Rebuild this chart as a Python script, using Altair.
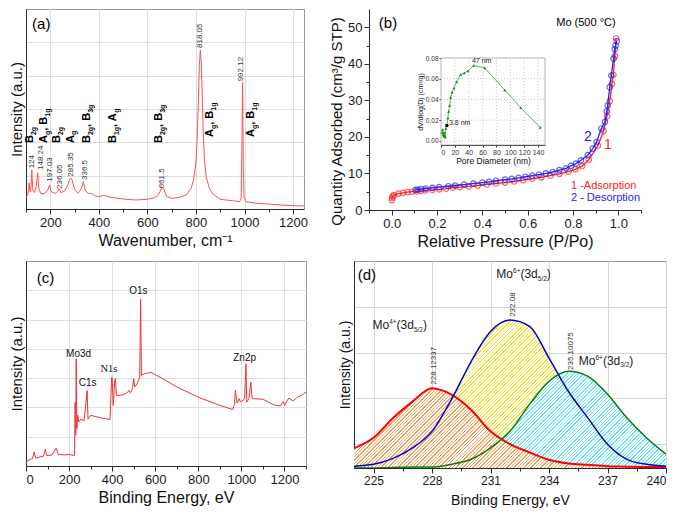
import altair as alt
import pandas as pd

FONT = "Liberation Sans"

# ---------------- (a) Raman spectrum ----------------
raman_x = [100, 108, 113, 117, 121, 124, 128, 135, 142, 148,
           153, 160, 175, 190, 197, 204, 220, 230, 236, 244,
           260, 272, 280, 285, 290, 300, 315, 328, 336, 344,
           355, 370, 385, 400, 420, 450, 500, 550, 600, 630,
           645, 655, 662, 668, 680, 700, 730, 760, 780, 790,
           800, 806, 810, 814, 818, 822, 826, 830, 835, 842,
           855, 870, 900, 950, 980, 986, 989, 992, 995, 998,
           1005, 1050, 1100, 1150, 1200, 1245]
raman_y = [0.37, 0.42, 0.79, 0.52, 0.70, 1.17, 0.57, 0.49, 0.67, 1.09,
           0.62, 0.47, 0.45, 0.57, 0.72, 0.52, 0.47, 0.52, 0.61, 0.49,
           0.55, 0.72, 0.89, 0.93, 0.87, 0.59, 0.47, 0.62, 0.82, 0.57,
           0.47, 0.47, 0.39, 0.37, 0.41, 0.35, 0.30, 0.27, 0.29, 0.34,
           0.42, 0.57, 0.65, 0.59, 0.37, 0.32, 0.35, 0.42, 0.62, 0.87,
           1.38, 2.28, 3.28, 4.28, 4.77, 4.39, 3.39, 2.28, 1.48, 0.97,
           0.62, 0.45, 0.29, 0.25, 0.22, 0.32, 1.78, 3.79, 1.28, 0.37,
           0.22, 0.17, 0.15, 0.12, 0.10, 0.09]
raman_peak_text = ["124", "148.24", "197.03", "236.05", "285.35", "336.5", "661.5", "818.05", "992.12"]
raman_peak_x = [123, 160, 200, 242, 286, 341, 661, 817, 987]
raman_peak_y = [1.22, 1.17, 0.82, 0.60, 0.97, 0.87, 0.62, 4.83, 3.83]
raman_mode_text = ["B_2g", "A_g, B_1g", "B_2g", "A_g", "B_2g, B_3g", "B_1g, A_g",
                   "B_2g, B_3g", "A_g, B_1g", "A_g, B_1g"]
raman_mode_x = [130, 187, 242, 297, 364, 472, 661, 872, 1040]
raman_mode_y = [1.98, 1.98, 1.98, 1.98, 1.98, 1.98, 1.98, 2.16, 2.16]
raman_xticks = [100, 200, 300, 400, 500, 600, 700, 800, 900, 1000, 1100, 1200]
raman_yticks = [1, 2, 3, 4, 5]

# ---------------- (b) N2 isotherm ----------------
ads_p = [0.0005, 0.002, 0.005, 0.01, 0.03, 0.05, 0.07, 0.09, 0.11, 0.13,
         0.15, 0.18, 0.21, 0.24, 0.27, 0.30, 0.34, 0.38, 0.42, 0.46,
         0.50, 0.54, 0.58, 0.62, 0.66, 0.70, 0.74, 0.78, 0.81, 0.84,
         0.87, 0.91, 0.935, 0.95, 0.962, 0.972, 0.978, 0.985, 0.99]
ads_q = [2.7, 3.3, 3.8, 4.1, 4.5, 4.7, 4.9, 5.0, 5.1, 5.2,
         5.35, 5.5, 5.65, 5.85, 6.1, 6.25, 6.45, 6.7, 7.0, 7.25,
         7.5, 7.8, 8.15, 8.55, 8.95, 9.4, 9.9, 10.5, 11.1, 12.0,
         13.8, 17.6, 21.6, 25.6, 29.8, 34.5, 37.0, 42.2, 47.0]
des_p = [0.993, 0.988, 0.984, 0.979, 0.969, 0.962, 0.953, 0.949, 0.941, 0.925,
         0.904, 0.887, 0.865, 0.835, 0.813, 0.791, 0.769, 0.74, 0.71, 0.68,
         0.65, 0.62, 0.59, 0.56, 0.53, 0.50, 0.46, 0.43, 0.40, 0.36,
         0.32, 0.28, 0.25, 0.21, 0.18, 0.15, 0.13, 0.115, 0.105]
des_q = [46.2, 45.0, 44.0, 41.4, 36.8, 33.6, 28.6, 27.0, 24.1, 22.3,
         18.6, 16.8, 15.0, 13.6, 12.7, 12.1, 11.4, 10.9, 10.4, 10.0,
         9.7, 9.4, 9.1, 8.8, 8.5, 8.3, 8.0, 7.7, 7.5, 7.2,
         6.95, 6.7, 6.5, 6.25, 6.05, 5.85, 5.7, 5.6, 5.5]
b_xticks = [-0.1, 0.0, 0.1, 0.2, 0.3, 0.4, 0.5, 0.6, 0.7, 0.8, 0.9, 1.0, 1.1]
b_yticks = [0, 5, 10, 15, 20, 25, 30, 35, 40, 45, 50]

# inset: pore size distribution
pore_d = [1.5, 2.4, 3.2, 3.8, 4.6, 5.3, 6.2, 7.0, 8.5, 10,
          11, 12.5, 14, 16, 18.8, 22.6, 28.4, 33.5, 39, 47,
          63, 92, 115, 143]
pore_v = [0.008, 0.011, 0.006, 0.0045, 0.008, 0.005, 0.0035, 0.012, 0.0148, 0.022,
          0.0285, 0.034, 0.042, 0.047, 0.051, 0.057, 0.064, 0.0655, 0.0675, 0.0727,
          0.0705, 0.049, 0.032, 0.013]
inset_xticks = [0, 20, 40, 60, 80, 100, 120, 140]
inset_yticks = [0.0, 0.02, 0.04, 0.06, 0.08]

# ---------------- (c) XPS survey ----------------
xps_x = [0, 5, 10, 20, 30, 38, 45, 60, 80, 90,
         95, 120, 140, 150, 180, 200, 225, 228, 231, 233,
         236, 240, 245, 255, 270, 284, 288, 300, 350, 390,
         398, 400, 405, 412, 415, 420, 450, 470, 478, 485,
         495, 500, 505, 515, 528, 532, 536, 550, 580, 600,
         650, 700, 800, 900, 960, 968, 972, 980, 990, 995,
         1000, 1015, 1021, 1025, 1035, 1044, 1050, 1100, 1150, 1180,
         1195, 1200, 1220, 1240, 1260, 1280, 1300]
xps_y = [0.08, 0.15, 0.20, 0.22, 0.25, 0.48, 0.27, 0.30, 0.33, 0.57,
         0.36, 0.37, 0.61, 0.39, 0.38, 0.39, 0.36, 2.18, 1.05, 3.66,
         1.27, 1.73, 1.50, 1.60, 1.55, 2.58, 1.60, 1.73, 1.64, 1.59,
         3.03, 3.00, 2.07, 2.90, 2.98, 2.40, 2.43, 2.50, 2.58, 2.50,
         2.65, 2.98, 2.70, 2.80, 3.03, 5.70, 3.09, 3.15, 3.20, 3.12,
         2.92, 2.70, 2.35, 2.07, 1.93, 2.10, 2.58, 2.15, 2.30, 2.20,
         2.20, 2.30, 3.49, 2.18, 2.30, 2.86, 2.30, 2.28, 2.09, 2.05,
         2.20, 2.07, 2.32, 2.22, 2.35, 2.42, 2.52]
xps_label_text = ["Mo3d", "C1s", "O1s", "Zn2p"]
xps_label_x = [244, 286, 522, 1015]
xps_label_y = [3.81, 2.82, 5.98, 3.70]
xps_xticks = [0, 100, 200, 300, 400, 500, 600, 700, 800, 900, 1000, 1100, 1200, 1300]
xps_yticks = [1, 2, 3, 4, 5, 6]

# ---------------- (d) Mo 3d deconvolution ----------------
be_x = [224, 225, 226, 227, 228, 229, 230, 231, 232, 233, 234, 235, 236, 237, 238, 239, 240]
mo4_52 = [0.91, 1.14, 1.57, 1.93, 2.22, 2.08, 1.75, 1.28, 1.00, 0.82, 0.66, 0.58, 0.55, 0.52, 0.51, 0.50, 0.50]
mo6_52 = [0.52, 0.56, 0.69, 0.92, 1.28, 1.98, 2.80, 3.46, 3.71, 3.57, 2.88, 2.15, 1.57, 1.00, 0.67, 0.56, 0.52]
mo6_32 = [0.48, 0.48, 0.49, 0.50, 0.50, 0.56, 0.67, 0.92, 1.28, 1.87, 2.37, 2.59, 2.48, 2.09, 1.57, 1.14, 0.78]
d_peak_text = ["228.12337", "232.08", "235.10075"]
d_peak_x = [228.11, 232.14, 235.14]
d_peak_y = [2.30, 3.78, 2.62]
d_label_text = ["Mo^4+(3d_5/2)", "Mo^6+(3d_5/2)", "Mo^6+(3d_3/2)"]
d_label_x = [224.95, 231.3, 235.53]
d_label_y = [3.51, 4.62, 2.73]
d_xticks = [225, 226.5, 228, 229.5, 231, 232.5, 234, 235.5, 237, 238.5, 240]
d_yticks = [1, 2, 3, 4]

W_A, H_A = 278, 200
W_B, H_B = 272, 201
W_C, H_C = 280, 205
W_D, H_D = 312, 207
D_YMIN, D_YMAX = 0.48, 5.0

BOLD_W = {"A": 0.722, "B": 0.722, "g": 0.611, ",": 0.278, " ": 0.278}
REG_W = {"M": 0.833, "o": 0.556, "(": 0.333, ")": 0.333, "+": 0.584, "/": 0.278}


def parse_rich(s):
    segs, cur, i = [], "", 0
    while i < len(s):
        ch = s[i]
        if ch in "_^":
            if cur:
                segs.append((cur, "n"))
                cur = ""
            j = i + 1
            while j < len(s) and s[j] not in ", ()":
                j += 1
            segs.append((s[i + 1:j], "s" if ch == "_" else "p"))
            i = j
        else:
            cur += ch
            i += 1
    if cur:
        segs.append((cur, "n"))
    return segs


def rich_rows(texts, xs, ys, widths, fs_main, fs_small, along, ppu):
    rows = []
    for text, x0, y0 in zip(texts, xs, ys):
        off = 0.0
        for seg, kind in parse_rich(text):
            fs = fs_main if kind == "n" else fs_small
            if along == "y":
                rows.append({"x": x0, "y": y0 + off / ppu, "t": seg, "k": kind})
            else:
                rows.append({"x": x0 + off / ppu, "y": y0, "t": seg, "k": kind})
            off += sum(widths.get(c, 0.556) for c in seg) * fs
    return pd.DataFrame(rows)


def cond(test, a, b):
    return {"condition": {"test": test, "value": a}, "value": b}


def axis(**kw):
    base = dict(labelFont=FONT, titleFont=FONT, labelColor="#1a1a1a", titleColor="#111111",
                domainColor="#2a2a2a", tickColor="#2a2a2a", titleFontWeight="normal",
                gridColor="#e0e0e0", labelFontSize=13, titleFontSize=16, labelPadding=2,
                titlePadding=3, labelOverlap=False)
    base.update(kw)
    return alt.Axis(**base)


def hatch(color, aspect, period_px, width_px, frac=0.4):
    # stripes running "/" at 45 deg on screen, covering the whole bounding box
    k = (1 + aspect) / (1 + aspect ** 2)
    n = max(1, round(width_px * (1 + aspect) / period_px))
    stops = []
    for i in range(n):
        a0, a1, a2 = i / n, (i + frac) / n, (i + 1) / n
        stops += [{"offset": a0, "color": color}, {"offset": a1, "color": color},
                  {"offset": a1, "color": "#ffffff"}, {"offset": a2, "color": "#ffffff"}]
    return {"gradient": "linear", "x1": 0, "y1": 0, "x2": k, "y2": k * aspect, "stops": stops}


# ================= panel (a) =================
AX = alt.X("x:Q", scale=alt.Scale(domain=[100, 1245], nice=False, zero=False),
           axis=axis(values=raman_xticks, title="Wavenumber, cm⁻¹",
                     labelExpr="datum.value % 200 == 0 ? format(datum.value, 'd') : ''",
                     tickSize=cond("datum.value % 200 == 0", 5, 3),
                     gridOpacity=cond("datum.value % 200 == 0", 1, 0)))
AY = alt.Y("y:Q", scale=alt.Scale(domain=[0, 6], nice=False, zero=False),
           axis=axis(values=raman_yticks, labels=False, ticks=False, title="Intensity (a.u.)",
                     titleFontSize=15, titlePadding=2))

a_line = alt.Chart(pd.DataFrame({"x": raman_x, "y": raman_y})).mark_line(
    color="#ff5252", strokeWidth=1).encode(x=AX, y=AY)
a_peaks = alt.Chart(pd.DataFrame({"x": raman_peak_x, "y": raman_peak_y, "t": raman_peak_text})).mark_text(
    angle=270, align="left", baseline="middle", fontSize=8, font=FONT, color="#333333").encode(x=AX, y=AY, text="t:N")
mode_df = rich_rows(raman_mode_text, raman_mode_x, raman_mode_y, BOLD_W, 11, 7, "y", H_A / 6)
a_mode_main = alt.Chart(mode_df[mode_df.k == "n"]).mark_text(
    angle=270, align="left", baseline="alphabetic", fontSize=11, fontWeight="bold", font=FONT,
    color="black").encode(x=AX, y=AY, text="t:N")
a_mode_sub = alt.Chart(mode_df[mode_df.k == "s"]).mark_text(
    angle=270, align="left", baseline="alphabetic", fontSize=7, fontWeight="bold", font=FONT,
    color="black", dy=2.5).encode(x=AX, y=AY, text="t:N")
a_tag = alt.Chart(pd.DataFrame({"x": [163], "y": [5.54], "t": ["(a)"]})).mark_text(
    fontSize=15, font=FONT, color="black").encode(x=AX, y=AY, text="t:N")
panel_a = alt.layer(a_line, a_peaks, a_mode_main, a_mode_sub, a_tag).properties(width=W_A, height=H_A)

# ================= panel (b) =================
BX = alt.X("p:Q", scale=alt.Scale(domain=[-0.1, 1.1], nice=False, zero=False),
           axis=axis(values=b_xticks, title="Relative Pressure (P/Po)", grid=False,
                     labelExpr="(abs(round(datum.value*10)) % 2 == 0 && datum.value > -0.05 && datum.value < 1.05) ? format(datum.value, '.1f') : ''",
                     tickSize=cond("abs(round(datum.value*10)) % 2 == 0", 5, 3)))
BY = alt.Y("q:Q", scale=alt.Scale(domain=[0, 55], nice=False, zero=False),
           axis=axis(values=b_yticks, title="Quantity Adsorbed (cm³/g STP)", grid=False,
                     titleFontSize=15, titleY=112,
                     labelExpr="datum.value % 10 == 0 ? format(datum.value, 'd') : ''",
                     tickSize=cond("datum.value % 10 == 0", 5, 3)))

ads_df = pd.DataFrame({"p": ads_p, "q": ads_q, "i": range(len(ads_p))})
des_df = pd.DataFrame({"p": des_p, "q": des_q, "i": range(len(des_p))})
RED, BLUE = "#ff2222", "#2424f0"
ads_line = alt.Chart(ads_df).mark_line(color=RED, strokeWidth=1.3).encode(x=BX, y=BY, order="i:Q")
ads_pts = alt.Chart(ads_df).mark_point(color=RED, filled=False, size=30, strokeWidth=1.2).encode(x=BX, y=BY)
des_line = alt.Chart(des_df).mark_line(color=BLUE, strokeWidth=1.3).encode(x=BX, y=BY, order="i:Q")
des_pts = alt.Chart(des_df).mark_point(color=BLUE, filled=False, size=30, strokeWidth=1.2).encode(x=BX, y=BY)

b_txt_black = alt.Chart(pd.DataFrame({"p": [-0.016, 0.857], "q": [51.2, 51.2], "t": ["(b)", "Mo (500 °C)"],
                                      "s": [15, 11]})).mark_text(font=FONT, color="black").encode(
    x=BX, y=BY, text="t:N", size=alt.Size("s:Q", scale=None))
b_txt_red = alt.Chart(pd.DataFrame({"p": [0.791], "q": [6.57], "t": ["1 -Adsorption"]})).mark_text(
    font=FONT, color=RED, fontSize=11, align="left").encode(x=BX, y=BY, text="t:N")
b_txt_blue = alt.Chart(pd.DataFrame({"p": [0.791], "q": [3.28], "t": ["2 - Desorption"]})).mark_text(
    font=FONT, color=BLUE, fontSize=11, align="left").encode(x=BX, y=BY, text="t:N")
b_num_blue = alt.Chart(pd.DataFrame({"p": [0.866], "q": [19.97], "t": ["2"]})).mark_text(
    font=FONT, color=BLUE, fontSize=14).encode(x=BX, y=BY, text="t:N")
b_num_red = alt.Chart(pd.DataFrame({"p": [0.954], "q": [17.79], "t": ["1"]})).mark_text(
    font=FONT, color=RED, fontSize=14).encode(x=BX, y=BY, text="t:N")
b_main = alt.layer(ads_line, ads_pts, des_line, des_pts, b_txt_black, b_txt_red, b_txt_blue,
                   b_num_blue, b_num_red)

INSET_L, INSET_R, INSET_T, INSET_B = 72, 176, 49, 136
IX = alt.X("d:Q", scale=alt.Scale(domain=[0, 150], range=[INSET_L, INSET_R], nice=False, zero=False),
           axis=axis(values=inset_xticks, format="d", orient="bottom", offset=-(H_B - INSET_B),
                     labelFontSize=7, titleFontSize=8.5, tickSize=2, labelPadding=1, titlePadding=1,
                     grid=False, title="Pore Diameter (nm)", labelColor="#333333"))
IY = alt.Y("v:Q", scale=alt.Scale(domain=[-0.004, 0.08], range=[INSET_B, INSET_T], nice=False, zero=False),
           axis=axis(values=inset_yticks, format=".2f", orient="left", offset=-INSET_L,
                     labelFontSize=6.5, titleFontSize=7, tickSize=2, labelPadding=1, titlePadding=2,
                     grid=False, title="dV/dlog(D) (cm³/g)", labelColor="#333333"))
frame_df = pd.DataFrame({"d": [0], "d2": [150], "v": [-0.004], "v2": [0.08]})
inset_frame = alt.Chart(frame_df).mark_rect(fill="white", stroke="#a0a0a0", strokeWidth=0.8).encode(
    x=IX, x2="d2:Q", y=IY, y2="v2:Q")
vgrid_df = pd.DataFrame({"d": inset_xticks[1:], "v": [-0.004] * 7, "v2": [0.08] * 7})
inset_vgrid = alt.Chart(vgrid_df).mark_rule(color="#bdbdbd", strokeDash=[1, 2], strokeWidth=0.8).encode(
    x=IX, y=IY, y2="v2:Q")
hgrid_df = pd.DataFrame({"d": [0] * 4, "d2": [150] * 4, "v": inset_yticks[:4]})
inset_hgrid = alt.Chart(hgrid_df).mark_rule(color="#bdbdbd", strokeDash=[1, 2], strokeWidth=0.8).encode(
    x=IX, x2="d2:Q", y=IY)
pore_df = pd.DataFrame({"d": pore_d, "v": pore_v, "i": range(len(pore_d))})
inset_line = alt.Chart(pore_df).mark_line(color="#5cb85c", strokeWidth=1).encode(x=IX, y=IY, order="i:Q")
inset_pts = alt.Chart(pore_df).mark_point(shape="triangle-up", filled=True, size=9, color="#128a12",
                                          opacity=1).encode(x=IX, y=IY)
inset_black = alt.Chart(pd.DataFrame({"d": [8.5], "v": [0.0148]})).mark_point(
    filled=True, size=12, color="black", opacity=1).encode(x=IX, y=IY)
inset_txt = alt.Chart(pd.DataFrame({"d": [44.7, 11.5], "v": [0.0771, 0.0172], "t": ["47 nm", "3.8 nm"]})).mark_text(
    font=FONT, fontSize=7, color="#222222", align="left").encode(x=IX, y=IY, text="t:N")
b_inset = alt.layer(inset_frame, inset_vgrid, inset_hgrid, inset_line, inset_pts, inset_black, inset_txt)

panel_b = alt.layer(b_main, b_inset).resolve_scale(x="independent", y="independent").properties(
    width=W_B, height=H_B, view=alt.ViewBackground(stroke="transparent"))

# ================= panel (c) =================
CX = alt.X("x:Q", scale=alt.Scale(domain=[0, 1300], nice=False, zero=False),
           axis=axis(values=xps_xticks, title="Binding Energy, eV",
                     labelExpr="datum.value % 200 == 0 ? format(datum.value, 'd') : ''",
                     tickSize=cond("datum.value % 200 == 0", 5, 3),
                     gridOpacity=cond("datum.value % 200 == 0", 1, 0)))
CY = alt.Y("y:Q", scale=alt.Scale(domain=[0, 7], nice=False, zero=False),
           axis=axis(values=xps_yticks, labels=False, ticks=False, title="Intensity (a.u.)",
                     titleFontSize=15, titlePadding=2))
c_line = alt.Chart(pd.DataFrame({"x": xps_x, "y": xps_y})).mark_line(color="#f03535", strokeWidth=1).encode(x=CX, y=CY)
c_lab = alt.Chart(pd.DataFrame({"x": xps_label_x, "y": xps_label_y, "t": xps_label_text})).mark_text(
    font=FONT, fontSize=10, color="#111111").encode(x=CX, y=CY, text="t:N")
c_n1s = alt.Chart(pd.DataFrame({"x": [385], "y": [3.30], "t": ["N1s"]})).mark_text(
    font="Liberation Serif", fontSize=10.5, color="#111111").encode(x=CX, y=CY, text="t:N")
c_tag = alt.Chart(pd.DataFrame({"x": [91], "y": [6.43], "t": ["(c)"]})).mark_text(
    fontSize=15, font=FONT, color="black").encode(x=CX, y=CY, text="t:N")
panel_c = alt.layer(c_line, c_lab, c_n1s, c_tag).properties(width=W_C, height=H_C)

# ================= panel (d) =================
DX = alt.X("x:Q", scale=alt.Scale(domain=[224, 240], nice=False, zero=False),
           axis=axis(values=d_xticks, title="Binding Energy, eV", labelFontSize=12, titleFontSize=14,
                     titlePadding=7,
                     labelExpr="(datum.value - 225) % 3 == 0 ? format(datum.value, 'd') : ''",
                     tickSize=cond("(datum.value - 225) % 3 == 0", 5, 3),
                     gridOpacity=cond("(datum.value - 225) % 3 == 0", 1, 0), gridColor="#d6d6d6"))
DY = alt.Y("y:Q", scale=alt.Scale(domain=[D_YMIN, D_YMAX], nice=False, zero=False),
           axis=axis(values=d_yticks, labels=False, ticks=False, title="Intensity (a.u.)",
                     titleFontSize=14, titlePadding=2, gridColor="#d6d6d6"))


def d_area(vals, color):
    aspect = (max(vals) - D_YMIN) * H_D / (D_YMAX - D_YMIN) / W_D
    df = pd.DataFrame({"x": be_x, "y": vals})
    return alt.Chart(df).mark_area(fill=hatch(color, aspect, 3.4, W_D), interpolate="monotone",
                                   clip=True).encode(x=DX, y=DY, y2=alt.datum(D_YMIN))


def d_line(vals, color, w):
    df = pd.DataFrame({"x": be_x, "y": vals})
    return alt.Chart(df).mark_line(color=color, strokeWidth=w, interpolate="monotone", clip=True).encode(x=DX, y=DY)


d_lab = rich_rows(d_label_text, d_label_x, d_label_y, REG_W, 12, 6.5, "x", W_D / 16)
d_lab_n = alt.Chart(d_lab[d_lab.k == "n"]).mark_text(font=FONT, fontSize=12, align="left",
                                                      baseline="alphabetic", color="#222222").encode(x=DX, y=DY, text="t:N")
d_lab_p = alt.Chart(d_lab[d_lab.k == "p"]).mark_text(font=FONT, fontSize=6.5, align="left",
                                                      baseline="alphabetic", color="#222222", dy=-5).encode(x=DX, y=DY, text="t:N")
d_lab_s = alt.Chart(d_lab[d_lab.k == "s"]).mark_text(font=FONT, fontSize=6.5, align="left",
                                                      baseline="alphabetic", color="#222222", dy=2.5).encode(x=DX, y=DY, text="t:N")
d_peaks = alt.Chart(pd.DataFrame({"x": d_peak_x, "y": d_peak_y, "t": d_peak_text})).mark_text(
    angle=270, align="left", baseline="middle", fontSize=8, font=FONT, color="#333333").encode(x=DX, y=DY, text="t:N")
d_tag = alt.Chart(pd.DataFrame({"x": [224.66], "y": [4.70], "t": ["(d)"]})).mark_text(
    fontSize=15, font=FONT, color="black").encode(x=DX, y=DY, text="t:N")
panel_d = alt.layer(
    d_area(mo6_52, "#f0e63e"), d_area(mo6_32, "#6fe4ee"), d_area(mo4_52, "#f2a35e"),
    d_line(mo4_52, "#ff0000", 2), d_line(mo6_52, "#0000d0", 1.5), d_line(mo6_32, "#0a7d0a", 1.5),
    d_peaks, d_lab_n, d_lab_p, d_lab_s, d_tag
).properties(width=W_D, height=H_D)

row1 = alt.hconcat(panel_a, panel_b, spacing=65, bounds="flush")
row2 = alt.hconcat(panel_c, panel_d, spacing=48, bounds="flush")
chart = alt.vconcat(row1, row2, spacing=10, padding=0, background="white").configure(
    font=FONT).configure_view(stroke="#9a9a9a", strokeWidth=1)

chart.save("out.html", embed_options={"renderer": "svg", "actions": False})
